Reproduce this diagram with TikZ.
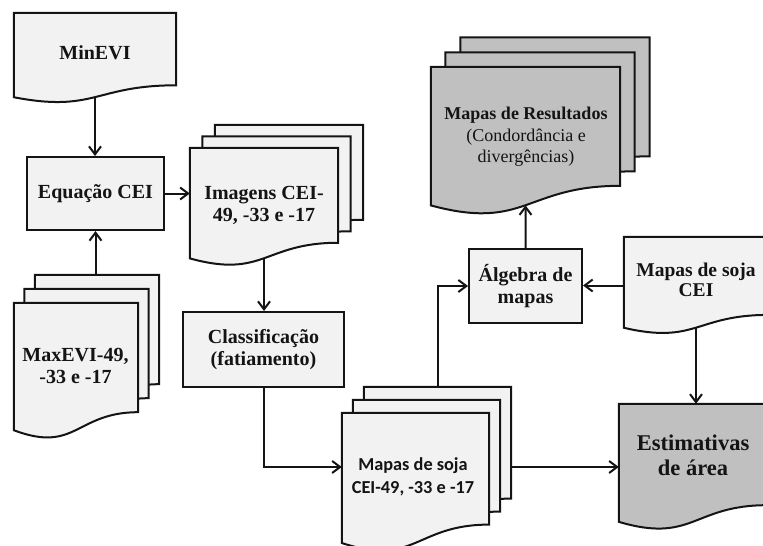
\documentclass[tikz,border=0pt]{standalone}
\usepackage{fontspec}
\setmainfont{Liberation Serif}
\newfontfamily\libser{Liberation Serif}
\newfontfamily\calib{Carlito}
\usetikzlibrary{calc,arrows.meta}
\pgfdeclarelayer{bg}
\pgfsetlayers{bg,main}
\definecolor{lightfill}{RGB}{242,242,242}
\definecolor{darkfill}{RGB}{192,192,192}
\definecolor{inkc}{RGB}{20,20,20}
\tikzset{
  docline/.style={line width=2pt, draw=inkc, line join=miter},
  arr/.style={line width=2pt, draw=inkc, -{Straight Barb[length=8pt,width=12pt]}},
  procbox/.style={rectangle, draw=inkc, line width=2pt, fill=lightfill, inner sep=0pt,
    align=center, text=inkc, font=\libser\bfseries\fontsize{20}{22}\selectfont},
  docbox/.style={rectangle, draw=none, inner sep=0pt},
  txt/.style={align=center, inner sep=0pt, text=inkc, font=\libser\bfseries\fontsize{20}{22}\selectfont}
}
\newcommand{\docshape}[4]{%
  \draw[docline,fill=#4] ($(#1.north west)+(#2,#3)$) -- ($(#1.north east)+(#2,#3)$)
   -- ($(#1.north east)!0.802!(#1.south east)+(#2,#3)$)
   .. controls ($(#1.north)!0.802!(#1.south)+(#2,#3)$) and ($(#1.north)!1.107!(#1.south)+(#2,#3)$)
   .. ($(#1.north west)!0.934!(#1.south west)+(#2,#3)$) -- cycle;}
\begin{document}
\begin{tikzpicture}[x=1pt,y=-1pt]
\useasboundingbox (0,0) rectangle (763,546);
% document frames (invisible boxes)
\node[docbox,minimum width=162,minimum height=90]  (minevi)  at (95,58) {};
\node[docbox,minimum width=148,minimum height=118] (imagens) at (264,207) {};
\node[docbox,minimum width=124,minimum height=136] (maxevi)  at (76,371) {};
\node[docbox,minimum width=147,minimum height=139] (soma)    at (415.5,482.5) {};
\node[docbox,minimum width=189,minimum height=148] (result)  at (525.5,141) {};
\node[docbox,minimum width=144,minimum height=97]  (sojacei) at (696,285.5) {};
\node[docbox,minimum width=148,minimum height=126] (estim)   at (693,467) {};
% process boxes
\node[procbox,minimum width=137,minimum height=73] (eq)      at (95.5,193.5) {Equação CEI};
\node[procbox,minimum width=161,minimum height=75] (classif) at (263.5,349.5) {Classificação\\(fatiamento)};
\node[procbox,minimum width=113,minimum height=74] (algebra) at (525.5,286) {Álgebra de\\mapas};
% document shapes
\begin{pgfonlayer}{bg}
\docshape{minevi}{0}{0}{lightfill}
\docshape{imagens}{25}{-23}{lightfill}
\docshape{imagens}{12.5}{-11.5}{lightfill}
\docshape{imagens}{0}{0}{lightfill}
\docshape{maxevi}{21}{-28}{lightfill}
\docshape{maxevi}{10.5}{-14}{lightfill}
\docshape{maxevi}{0}{0}{lightfill}
\docshape{soma}{22}{-26}{lightfill}
\docshape{soma}{11}{-13}{lightfill}
\docshape{soma}{0}{0}{lightfill}
\docshape{result}{29.5}{-29.5}{darkfill}
\docshape{result}{14.5}{-14.5}{darkfill}
\docshape{result}{0}{0}{darkfill}
\docshape{sojacei}{0}{0}{lightfill}
\docshape{estim}{0}{0}{darkfill}
\end{pgfonlayer}
% texts
\node[txt] (minevi-t) at (95,53) {MinEVI};
\node[txt] (imagens-t) at (264,205) {Imagens CEI-\\49, -33 e -17};
\node[txt] (maxevi-t) at (75.5,366) {MaxEVI-49,\\-33 e -17};
\node[txt,font=\calib\bfseries\fontsize{18.3}{23}\selectfont] (soma-t) at (413,477) {Mapas de soja\\CEI-49, -33 e -17};
\node[txt,font=\libser\fontsize{18}{21.5}\selectfont] (result-t) at (526,137) {{\bfseries Mapas de Resultados}\\(Condordância e\\divergências)};
\node[txt,font=\libser\bfseries\fontsize{19.5}{20}\selectfont] (sojacei-t) at (696,280) {Mapas de soja\\CEI};
\node[txt,font=\libser\bfseries\fontsize{22.5}{25}\selectfont] (estim-t) at (693,455) {Estimativas\\de área};
% helper coordinates
\coordinate (minevi-b) at ($(minevi.north)!0.933!(minevi.south)$);
\coordinate (imagens-b) at ($(imagens.north)!0.933!(imagens.south)$);
\coordinate (result-b) at ($(result.north)!0.933!(result.south)$);
\coordinate (sojacei-b) at ($(sojacei.north)!0.933!(sojacei.south)$);
\coordinate (maxevi-top) at ($(maxevi.north)+(0,-28)$);
\coordinate (soma-top) at ($(soma.north)+(22,-26)$);
\coordinate (soma-right) at ($(soma.east)+(22,0)$);
% connectors
\draw[arr] (minevi-b) -- (minevi-b |- eq.north);
\draw[arr] (maxevi-top -| eq.south) -- (eq.south);
\draw[arr] (eq.east) -- (eq.east -| imagens.west);
\draw[arr] (imagens-b) -- (imagens-b |- classif.north);
\draw[arr] (classif.south) |- (soma.west |- estim.west);
\draw[arr] (soma-top) |- (algebra.west);
\draw[arr] (algebra.north) -- (result-b);
\draw[arr] (sojacei.west) -- (sojacei.west -| algebra.east);
\draw[arr] (sojacei-b) -- (sojacei-b |- estim.north);
\draw[arr] (soma-right |- estim.west) -- (estim.west);
\end{tikzpicture}
\end{document}
